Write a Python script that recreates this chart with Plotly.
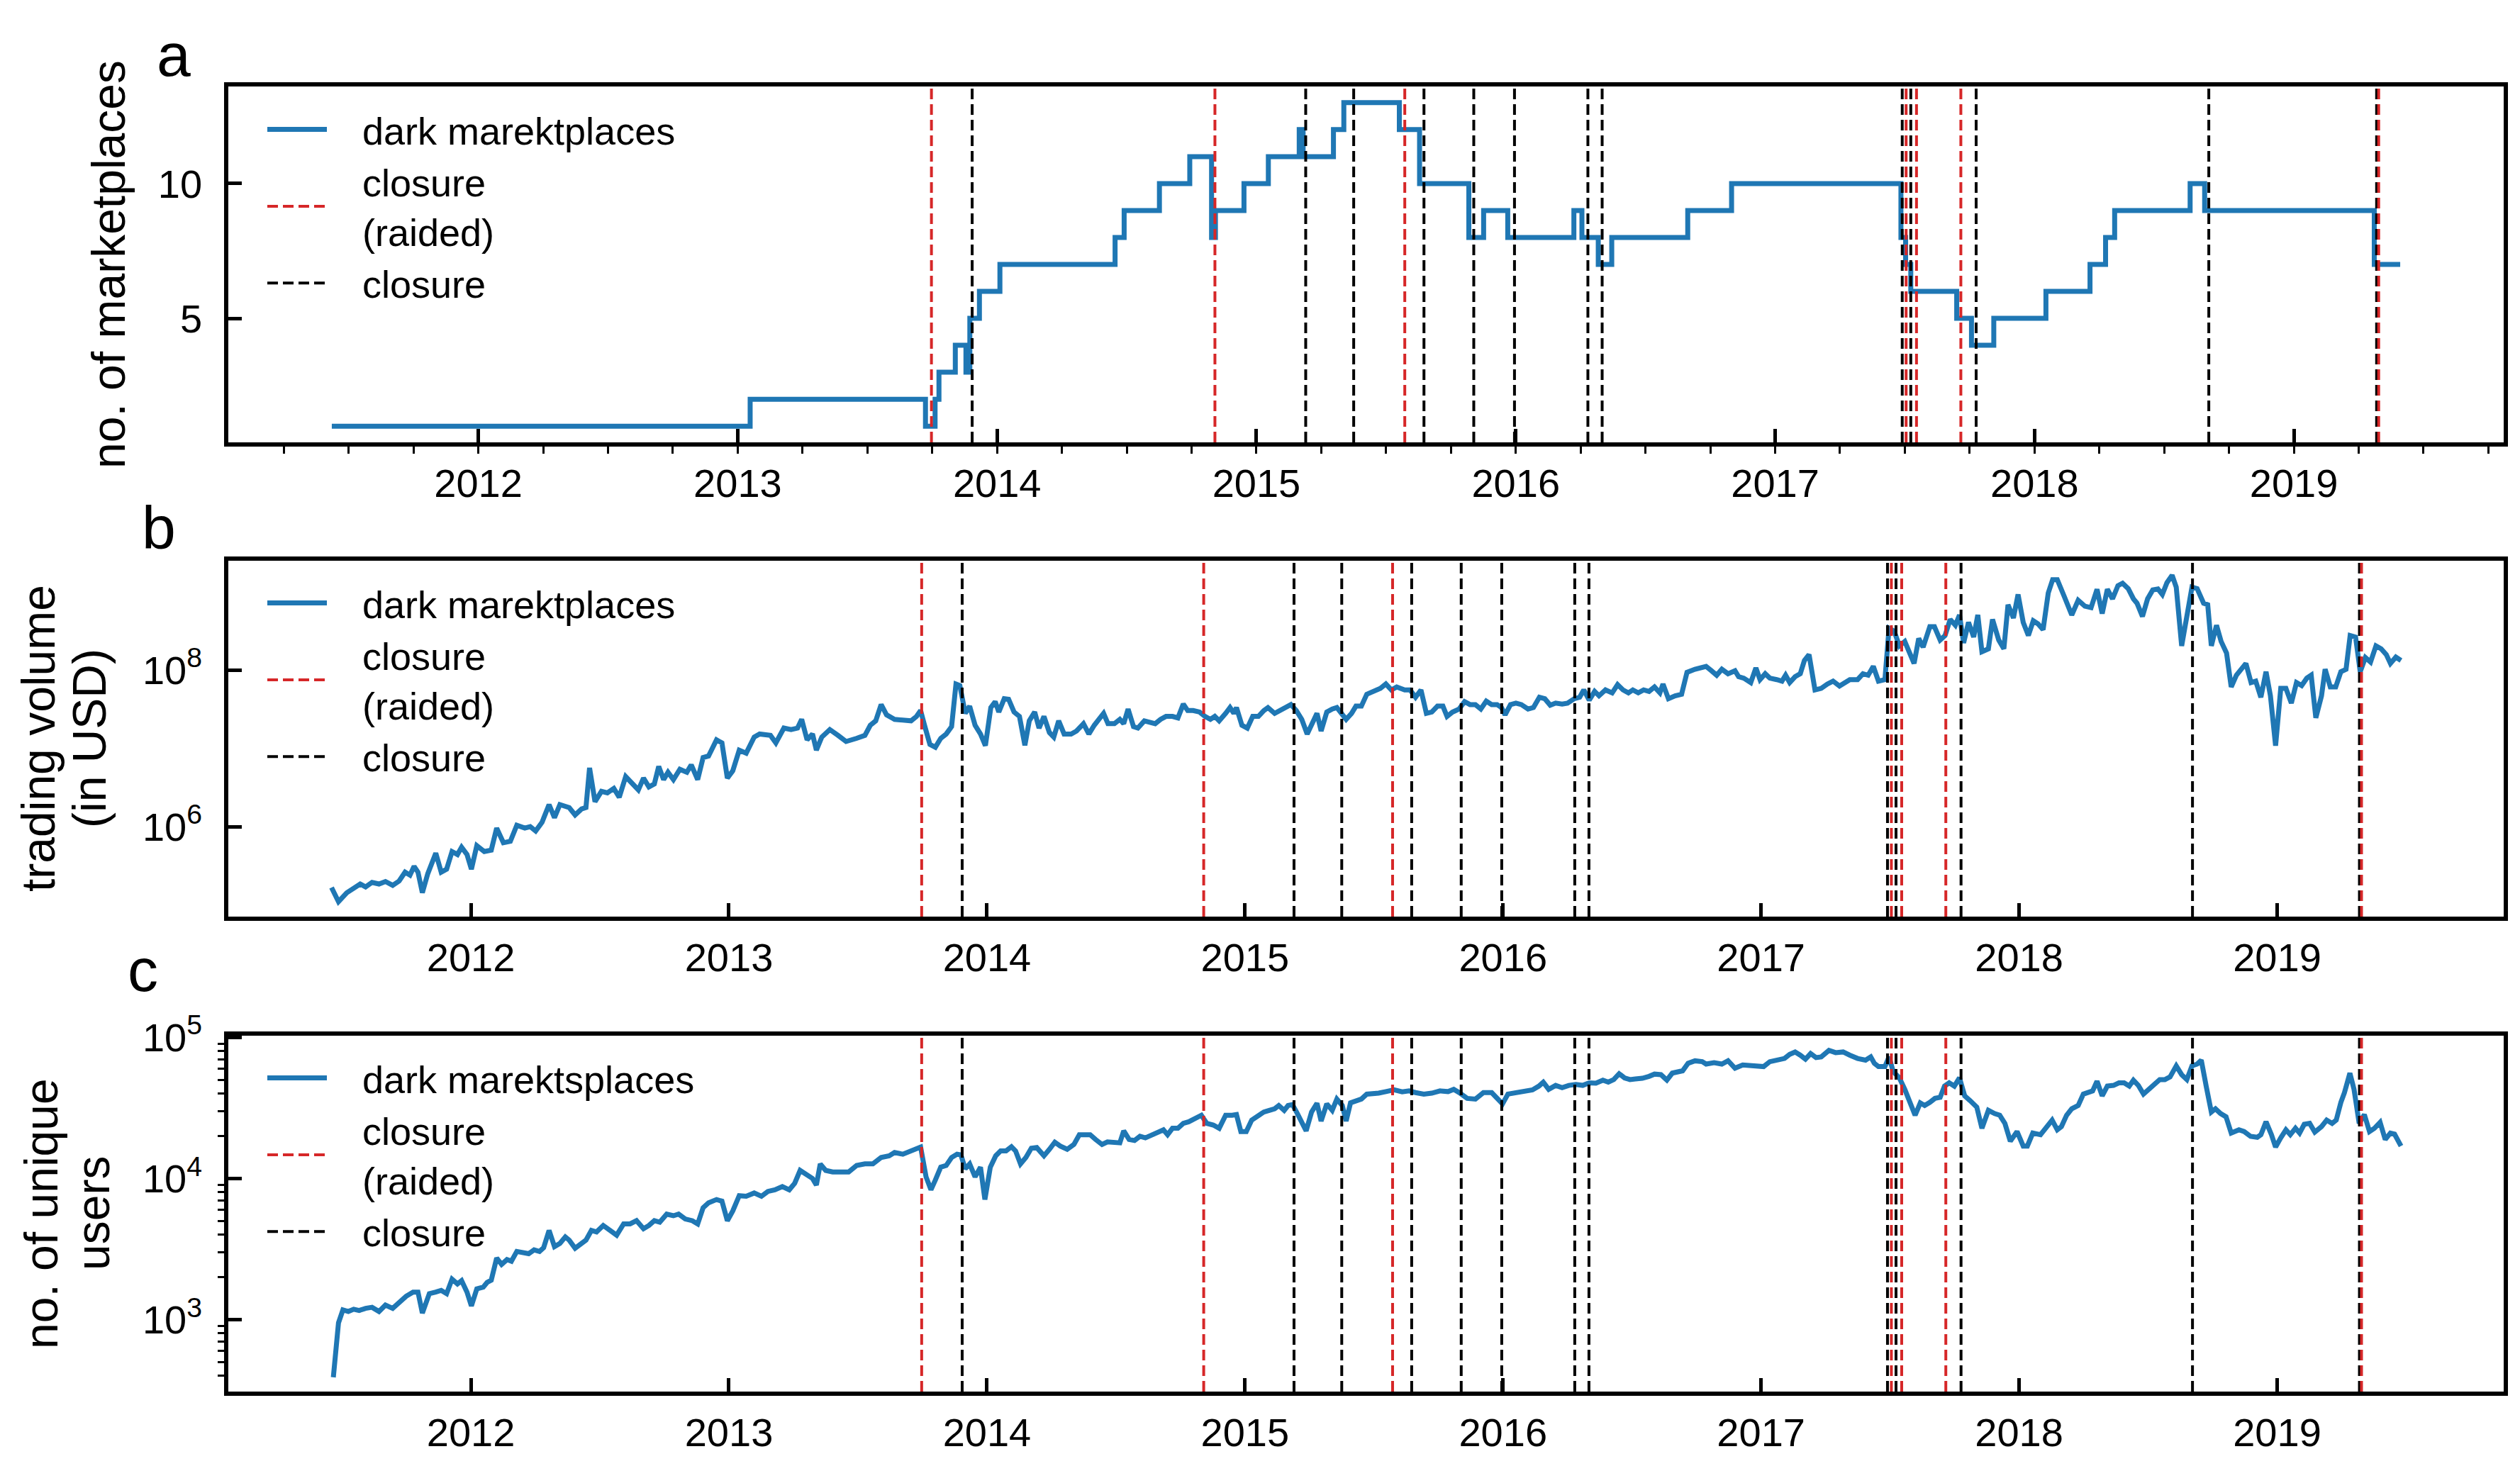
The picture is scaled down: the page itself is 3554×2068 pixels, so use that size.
import plotly.graph_objects as go

FONT = "Liberation Sans, Arial, Helvetica, sans-serif"
W, H = 3554, 2068

# ---------------- data (x in decimal years) ----------------
# panel a: number of active dark marketplaces (value valid from the given date on)
market_year = [2011.435, 2013.048, 2013.724, 2013.761, 2013.776, 2013.839, 2013.880, 2013.895, 2013.932,
               2014.011, 2014.455, 2014.490, 2014.626, 2014.743, 2014.827, 2014.842, 2014.952,
               2015.046, 2015.165, 2015.180, 2015.297, 2015.337, 2015.551, 2015.629, 2015.819, 2015.876, 2015.969,
               2016.224, 2016.255, 2016.318, 2016.370, 2016.663, 2016.832,
               2017.485, 2017.503, 2017.523, 2017.700, 2017.757, 2017.843,
               2018.044, 2018.214, 2018.274, 2018.309, 2018.600, 2018.656,
               2019.310, 2019.410]
market_count = [1, 2, 1, 2, 3, 4, 3, 5, 6,
                7, 8, 9, 10, 11, 8, 9, 10,
                11, 12, 11, 12, 13, 12, 10, 8, 9, 8,
                9, 8, 7, 8, 9, 10,
                8, 7, 6, 5, 4, 5,
                6, 7, 8, 9, 10, 9,
                7, 7]

# closures of marketplaces (decimal years)
raided_year = [2013.747, 2014.840, 2015.572, 2017.505, 2017.545, 2017.716, 2019.327]
closure_year = [2013.904, 2015.190, 2015.375, 2015.646, 2015.838, 2015.995, 2016.278, 2016.333,
                2017.490, 2017.523, 2017.775, 2018.672, 2019.319]

# panel b: weekly trading volume (USD)
vol_year = [
    2011.460, 2011.487, 2011.519, 2011.550, 2011.571, 2011.592, 2011.617, 2011.644, 2011.669, 2011.697,
    2011.722, 2011.745, 2011.764, 2011.780, 2011.795, 2011.812, 2011.833, 2011.864, 2011.885, 2011.906,
    2011.927, 2011.948, 2011.964, 2011.985, 2012.002, 2012.023, 2012.052, 2012.079, 2012.100, 2012.126,
    2012.153, 2012.178, 2012.209, 2012.230, 2012.251, 2012.276, 2012.303, 2012.324, 2012.345, 2012.381,
    2012.404, 2012.429, 2012.446, 2012.460, 2012.481, 2012.506, 2012.529, 2012.554, 2012.575, 2012.600,
    2012.628, 2012.649, 2012.669, 2012.690, 2012.711, 2012.728, 2012.747, 2012.764, 2012.785, 2012.810,
    2012.837, 2012.854, 2012.879, 2012.900, 2012.921, 2012.952, 2012.973, 2012.994, 2013.015, 2013.040,
    2013.067, 2013.098, 2013.119, 2013.161, 2013.182, 2013.213, 2013.241, 2013.266, 2013.282, 2013.303,
    2013.324, 2013.339, 2013.360, 2013.391, 2013.423, 2013.454,
    2013.495, 2013.527, 2013.548, 2013.569, 2013.590, 2013.611, 2013.642, 2013.685, 2013.706, 2013.727,
    2013.743, 2013.758, 2013.779, 2013.800, 2013.821, 2013.842, 2013.863, 2013.880, 2013.895, 2013.916,
    2013.933, 2013.954, 2013.975, 2013.994, 2014.015, 2014.032, 2014.046, 2014.067, 2014.084, 2014.105,
    2014.126, 2014.147, 2014.164, 2014.185, 2014.202, 2014.221, 2014.242, 2014.259, 2014.278, 2014.299,
    2014.326, 2014.347, 2014.374, 2014.395, 2014.416, 2014.452, 2014.469, 2014.494, 2014.515, 2014.530,
    2014.547, 2014.568, 2014.585, 2014.610, 2014.631, 2014.652, 2014.673, 2014.694, 2014.719, 2014.740,
    2014.761, 2014.778, 2014.799, 2014.824, 2014.845, 2014.866, 2014.883, 2014.900, 2014.925, 2014.942,
    2014.957, 2014.967, 2014.988, 2015.009, 2015.030, 2015.052, 2015.073, 2015.089, 2015.115, 2015.136,
    2015.157, 2015.178, 2015.199, 2015.220, 2015.241, 2015.262, 2015.279, 2015.295, 2015.317, 2015.338,
    2015.356, 2015.392, 2015.413, 2015.430, 2015.451, 2015.472, 2015.504, 2015.525, 2015.546, 2015.567,
    2015.588, 2015.619, 2015.640, 2015.661, 2015.682, 2015.703, 2015.724, 2015.746, 2015.767, 2015.783,
    2015.804, 2015.830, 2015.851, 2015.872, 2015.893, 2015.914, 2015.935, 2015.956, 2015.977, 2015.994,
    2016.008, 2016.029, 2016.050, 2016.071, 2016.097, 2016.118, 2016.141, 2016.162, 2016.183, 2016.204,
    2016.229, 2016.250, 2016.276, 2016.297, 2016.313, 2016.334, 2016.355, 2016.372, 2016.397, 2016.423,
    2016.444, 2016.465, 2016.486, 2016.503, 2016.524, 2016.545, 2016.566, 2016.587, 2016.608, 2016.620,
    2016.641, 2016.667, 2016.692, 2016.713, 2016.744, 2016.787, 2016.808, 2016.828, 2016.848, 2016.872,
    2016.899, 2016.913, 2016.933, 2016.960, 2016.980, 2016.996, 2017.016, 2017.034, 2017.061, 2017.081,
    2017.095, 2017.111, 2017.132, 2017.152, 2017.168, 2017.186, 2017.209, 2017.233, 2017.257, 2017.279,
    2017.304, 2017.324, 2017.344, 2017.374, 2017.395, 2017.415, 2017.435, 2017.455, 2017.480, 2017.496,
    2017.516, 2017.536, 2017.557, 2017.593, 2017.611, 2017.628, 2017.654, 2017.672, 2017.694, 2017.713,
    2017.733, 2017.753, 2017.769, 2017.785, 2017.804, 2017.824, 2017.840, 2017.856, 2017.881, 2017.897,
    2017.921, 2017.941, 2017.957, 2017.978, 2017.996, 2018.016, 2018.036, 2018.055, 2018.073, 2018.093,
    2018.113, 2018.130, 2018.148, 2018.174, 2018.204, 2018.229, 2018.255, 2018.279, 2018.302, 2018.322,
    2018.342, 2018.362, 2018.383, 2018.401, 2018.423, 2018.443, 2018.457, 2018.478, 2018.498, 2018.518,
    2018.538, 2018.555, 2018.573, 2018.593, 2018.609, 2018.630, 2018.650, 2018.670, 2018.690, 2018.715,
    2018.731, 2018.745, 2018.765, 2018.783, 2018.804, 2018.822, 2018.842, 2018.862, 2018.879, 2018.899,
    2018.917, 2018.937, 2018.957, 2018.974, 2018.994, 2019.014, 2019.034, 2019.055, 2019.075, 2019.095,
    2019.115, 2019.132, 2019.150, 2019.172, 2019.186, 2019.206, 2019.227, 2019.247, 2019.267, 2019.283,
    2019.304, 2019.322, 2019.342, 2019.362, 2019.383, 2019.403, 2019.423, 2019.439, 2019.460, 2019.480]
vol_usd = [
    1.67e5, 1.10e5, 1.43e5, 1.63e5, 1.85e5, 1.70e5, 1.94e5, 1.85e5, 1.99e5, 1.78e5,
    2.02e5, 2.62e5, 2.40e5, 3.11e5, 2.62e5, 1.43e5, 2.51e5, 4.59e5, 2.62e5, 2.86e5,
    4.80e5, 4.40e5, 5.46e5, 4.40e5, 2.86e5, 5.70e5, 4.80e5, 5.01e5, 9.57e5, 6.22e5,
    6.49e5, 1.04e6, 9.57e5, 1.00e6, 8.79e5, 1.14e6, 1.91e6, 1.30e6, 1.91e6, 1.75e6,
    1.41e6, 1.68e6, 1.75e6, 5.62e6, 2.08e6, 2.82e6, 2.70e6, 3.07e6, 2.37e6, 4.35e6,
    3.50e6, 2.94e6, 4.16e6, 3.21e6, 3.50e6, 5.87e6, 3.98e6, 4.94e6, 3.98e6, 5.39e6,
    4.94e6, 6.14e6, 3.98e6, 7.62e6, 7.96e6, 1.28e7, 1.17e7, 4.16e6, 5.16e6, 9.46e6,
    8.67e6, 1.39e7, 1.52e7, 1.46e7, 1.17e7, 1.81e7, 1.73e7, 1.81e7, 2.34e7, 1.28e7,
    1.52e7, 9.46e6, 1.39e7, 1.73e7, 1.46e7, 1.22e7,
    1.34e7, 1.46e7, 1.97e7, 2.24e7, 3.61e7, 2.67e7, 2.34e7, 2.30e7, 2.24e7, 2.55e7,
    3.03e7, 1.97e7, 1.12e7, 1.03e7, 1.34e7, 1.52e7, 1.89e7, 6.61e7, 6.32e7, 2.79e7,
    3.45e7, 1.97e7, 1.52e7, 1.08e7, 3.31e7, 3.94e7, 2.90e7, 4.29e7, 4.22e7, 2.90e7,
    2.55e7, 1.09e7, 2.24e7, 2.90e7, 1.81e7, 2.55e7, 1.59e7, 1.39e7, 2.24e7, 1.52e7,
    1.52e7, 1.66e7, 2.06e7, 1.52e7, 1.97e7, 2.79e7, 2.06e7, 2.06e7, 2.34e7, 2.06e7,
    3.17e7, 1.89e7, 1.81e7, 2.24e7, 2.15e7, 2.06e7, 2.34e7, 2.55e7, 2.55e7, 2.44e7,
    3.67e7, 3.03e7, 3.03e7, 2.90e7, 2.55e7, 2.34e7, 2.55e7, 2.24e7, 2.79e7, 3.31e7,
    2.79e7, 3.31e7, 1.97e7, 1.81e7, 2.55e7, 2.55e7, 3.03e7, 3.31e7, 2.79e7, 3.03e7,
    3.31e7, 3.61e7, 3.03e7, 2.34e7, 1.52e7, 2.24e7, 2.79e7, 1.66e7, 2.90e7, 3.17e7,
    3.31e7, 2.34e7, 2.79e7, 3.45e7, 3.45e7, 4.89e7, 5.32e7, 5.81e7, 6.61e7, 5.56e7,
    6.06e7, 5.56e7, 5.56e7, 4.48e7, 5.56e7, 2.79e7, 2.90e7, 3.45e7, 3.45e7, 2.55e7,
    2.90e7, 3.17e7, 3.94e7, 3.61e7, 3.61e7, 3.17e7, 4.00e7, 3.61e7, 3.61e7, 3.31e7,
    2.67e7, 3.61e7, 3.77e7, 3.61e7, 3.17e7, 3.31e7, 4.48e7, 4.29e7, 3.55e7, 3.77e7,
    3.67e7, 3.77e7, 4.29e7, 4.48e7, 5.56e7, 4.11e7, 5.32e7, 4.68e7, 5.56e7, 5.10e7,
    6.49e7, 5.56e7, 5.10e7, 5.56e7, 5.10e7, 5.56e7, 5.32e7, 6.06e7, 5.10e7, 6.61e7,
    4.29e7, 4.68e7, 4.89e7, 9.33e7, 1.02e8, 1.11e8, 9.75e7, 8.56e7, 1.02e8, 8.94e7,
    9.75e7, 8.20e7, 7.85e7, 6.90e7, 1.06e8, 7.52e7, 8.94e7, 7.85e7, 7.52e7, 7.20e7,
    8.56e7, 6.90e7, 8.20e7, 8.94e7, 1.32e8, 1.57e8, 5.56e7, 5.81e7, 6.61e7, 7.20e7,
    6.22e7, 6.90e7, 7.52e7, 7.52e7, 8.94e7, 8.56e7, 1.11e8, 7.20e7, 7.52e7, 3.41e8,
    3.13e8, 2.03e8, 2.31e8, 1.21e8, 2.52e8, 1.95e8, 3.56e8, 3.56e8, 2.41e8, 2.75e8,
    4.42e8, 3.72e8, 5.03e8, 2.21e8, 4.05e8, 2.63e8, 5.03e8, 1.71e8, 1.86e8, 4.42e8,
    2.41e8, 1.86e8, 6.81e8, 4.61e8, 9.20e8, 4.05e8, 2.75e8, 4.24e8, 3.88e8, 3.27e8,
    9.61e8, 1.42e9, 1.42e9, 8.83e8, 5.03e8, 7.74e8, 6.52e8, 6.24e8, 1.07e9, 5.25e8,
    1.07e9, 8.09e8, 1.19e9, 1.28e9, 1.09e9, 8.09e8, 7.11e8, 4.82e8, 8.09e8, 1.05e9,
    1.08e9, 9.20e8, 1.30e9, 1.62e9, 1.14e9, 2.03e8, 5.25e8, 1.14e9, 1.09e9, 7.11e8,
    6.81e8, 2.03e8, 3.72e8, 2.31e8, 1.64e8, 6.06e7, 8.56e7, 1.02e8, 1.21e8, 6.90e7,
    7.20e7, 4.48e7, 9.49e7, 4.68e7, 1.08e7, 5.81e7, 5.81e7, 3.77e7, 6.90e7, 6.32e7,
    7.85e7, 8.56e7, 2.44e7, 4.68e7, 1.02e8, 6.06e7, 6.06e7, 9.49e7, 1.02e8, 2.75e8,
    2.63e8, 9.49e7, 1.44e8, 1.26e8, 2.03e8, 1.86e8, 1.57e8, 1.21e8, 1.46e8, 1.32e8]

# panel c: weekly number of unique users
users_year = [
    2011.467, 2011.487, 2011.504, 2011.525, 2011.546, 2011.567, 2011.592, 2011.617, 2011.644, 2011.669,
    2011.697, 2011.722, 2011.749, 2011.776, 2011.795, 2011.812, 2011.839, 2011.864, 2011.885, 2011.906,
    2011.927, 2011.948, 2011.964, 2011.985, 2012.002, 2012.023, 2012.048, 2012.063, 2012.079, 2012.100,
    2012.119, 2012.140, 2012.157, 2012.178, 2012.203, 2012.224, 2012.245, 2012.266, 2012.282, 2012.303,
    2012.324, 2012.345, 2012.366, 2012.381, 2012.404, 2012.429, 2012.446, 2012.467, 2012.487, 2012.513,
    2012.538, 2012.565, 2012.592, 2012.617, 2012.642, 2012.669, 2012.690, 2012.711, 2012.732, 2012.759,
    2012.785, 2012.805, 2012.831, 2012.858, 2012.879, 2012.900, 2012.921, 2012.952, 2012.973, 2012.994,
    2013.015, 2013.040, 2013.067, 2013.098, 2013.126, 2013.151, 2013.178, 2013.207, 2013.234, 2013.255,
    2013.276, 2013.303, 2013.324, 2013.339, 2013.354, 2013.375, 2013.402, 2013.433, 2013.464,
    2013.495, 2013.527, 2013.558, 2013.590, 2013.621, 2013.642, 2013.674, 2013.706, 2013.727, 2013.743,
    2013.764, 2013.783, 2013.800, 2013.821, 2013.842, 2013.863, 2013.884, 2013.899, 2013.916, 2013.933,
    2013.954, 2013.975, 2013.992, 2014.013, 2014.034, 2014.053, 2014.074, 2014.095, 2014.111, 2014.130,
    2014.151, 2014.172, 2014.193, 2014.221, 2014.242, 2014.263, 2014.284, 2014.311, 2014.337, 2014.358,
    2014.379, 2014.400, 2014.421, 2014.446, 2014.467, 2014.494, 2014.515, 2014.530, 2014.551, 2014.572,
    2014.593, 2014.614, 2014.641, 2014.662, 2014.684, 2014.700, 2014.719, 2014.740, 2014.761, 2014.782,
    2014.803, 2014.831, 2014.852, 2014.877, 2014.900, 2014.925, 2014.950, 2014.967, 2014.984, 2015.005,
    2015.026, 2015.052, 2015.073, 2015.094, 2015.115, 2015.131, 2015.152, 2015.167, 2015.184, 2015.203,
    2015.220, 2015.237, 2015.258, 2015.279, 2015.295, 2015.317, 2015.338, 2015.356, 2015.377, 2015.392,
    2015.409, 2015.430, 2015.451, 2015.472, 2015.493, 2015.518, 2015.546, 2015.578, 2015.609, 2015.636,
    2015.661, 2015.693, 2015.724, 2015.756, 2015.787, 2015.809, 2015.830, 2015.861, 2015.893, 2015.924,
    2015.956, 2015.977, 2015.998, 2016.019, 2016.050, 2016.082, 2016.114, 2016.139, 2016.156, 2016.177,
    2016.204, 2016.229, 2016.255, 2016.282, 2016.309, 2016.334, 2016.360, 2016.387, 2016.408, 2016.429,
    2016.450, 2016.471, 2016.492, 2016.513, 2016.540, 2016.566, 2016.587, 2016.612, 2016.635, 2016.656,
    2016.681, 2016.696, 2016.717, 2016.744, 2016.772,
    2016.787, 2016.818, 2016.848, 2016.872, 2016.899, 2016.929, 2016.960, 2016.990, 2017.010, 2017.034,
    2017.061, 2017.091, 2017.111, 2017.132, 2017.152, 2017.172, 2017.192, 2017.213, 2017.233, 2017.263,
    2017.289, 2017.318, 2017.344, 2017.374, 2017.405, 2017.425, 2017.439, 2017.455, 2017.480, 2017.496,
    2017.512, 2017.536, 2017.557, 2017.577, 2017.597, 2017.617, 2017.634, 2017.654, 2017.674, 2017.694,
    2017.711, 2017.729, 2017.749, 2017.769, 2017.789, 2017.810, 2017.836, 2017.856, 2017.881, 2017.905,
    2017.925, 2017.945, 2017.966, 2017.992, 2018.016, 2018.032, 2018.053, 2018.083, 2018.103, 2018.128,
    2018.148, 2018.164, 2018.184, 2018.204, 2018.229, 2018.249, 2018.285, 2018.302, 2018.322, 2018.342,
    2018.366, 2018.387, 2018.407, 2018.427, 2018.443, 2018.462, 2018.482, 2018.502, 2018.524, 2018.545,
    2018.565, 2018.585, 2018.609, 2018.630, 2018.650, 2018.670, 2018.690, 2018.706, 2018.725, 2018.745,
    2018.761, 2018.781, 2018.802, 2018.822, 2018.852, 2018.872, 2018.897, 2018.923, 2018.937, 2018.957,
    2018.978, 2018.994, 2019.014, 2019.034, 2019.051, 2019.071, 2019.087, 2019.105, 2019.126, 2019.146,
    2019.172, 2019.192, 2019.213, 2019.229, 2019.247, 2019.261, 2019.282, 2019.298, 2019.318, 2019.338,
    2019.358, 2019.377, 2019.399, 2019.419, 2019.439, 2019.455, 2019.480]
users_count = [
    390, 949, 1172, 1141, 1185, 1160, 1202, 1222, 1141, 1268,
    1202, 1336, 1464, 1567, 1567, 1112, 1527, 1567, 1611, 1527,
    1936, 1790, 1888, 1567, 1249, 1652, 1698, 1836, 1904, 2733,
    2460, 2663, 2594, 3041, 2993, 2930, 3120, 3041, 3236, 4285,
    3289, 3467, 3855, 3656, 3205, 3467, 3656, 4285, 4178, 4645,
    4285, 3963, 4766, 4766, 5023, 4405, 4645, 5023, 4898, 5589,
    5445, 5589, 5164, 5023, 4766, 6209, 6730, 7096, 6908, 5023,
    5888, 7551, 7479, 7889, 7479, 8098, 8318, 8770, 8318, 9244,
    11410, 10550, 10000, 8994, 12680, 11410, 11120, 11120, 11120,
    12360, 12690, 12690, 14100, 14490, 15280, 14870, 15670, 16100, 16700,
    10270, 8318, 9739, 12030, 12360, 14100, 14870, 14700, 11720, 12690,
    10270, 12030, 7096, 12030, 14490, 15670, 15670, 16800, 15670, 12690,
    14100, 16370, 16560, 14490, 16100, 18080, 16980, 16100, 17430, 20430,
    20430, 20430, 18900, 17430, 18180, 18080, 17890, 21760, 18900, 18590,
    19900, 19400, 20430, 20990, 22130, 20430, 22700, 22700, 24590, 25240,
    26340, 28060, 24590, 23930, 22700, 28060, 28060, 28380, 21520, 21520,
    25940, 28060, 29580, 30400, 31200, 32910, 30400, 32910, 33430, 28840,
    25240, 21760, 29580, 34140, 25520, 33810, 30400, 36540, 32910, 25520,
    34340, 35240, 36540, 39630, 39630, 40270, 41300, 42460, 41100, 41760,
    40640, 39630, 40270, 41760, 41300, 42860, 40640, 36980, 36540, 40640,
    40640, 36980, 33810, 39630, 40640, 41300, 42460, 45180, 48170, 42860,
    45700, 44060, 45700, 46430, 45700, 47630, 47380, 49780, 48170, 50230,
    55290, 51660, 50230, 50760, 51320, 52960, 54950, 54450, 49780, 55840,
    57390, 57970, 65460, 68230, 67290,
    64710, 66180, 64710, 68230, 60500, 63830, 62830, 61520, 62120, 67290,
    69020, 70950, 75860, 78840, 74820, 70140, 76740, 71940, 72780, 80910,
    77980, 78840, 74820, 70950, 69020, 72780, 65460, 62120, 62120, 72780,
    57390, 51660, 42860, 34650, 28060, 34340, 32910, 34650, 36980, 37580,
    45180, 47630, 45180, 51660, 38550, 35640, 32050, 22700, 30400, 28840,
    28060, 24590, 18370, 21520, 16980, 16980, 20990, 20430, 22700, 25940,
    22130, 23330, 28060, 31200, 32910, 39630, 41760, 48980, 38550, 45180,
    45700, 47630, 47630, 45180, 49780, 45700, 39630, 42860, 47380, 50230,
    50230, 52480, 62830, 54450, 50230, 62830, 64710, 69020, 45180, 29580,
    31200, 28840, 27370, 20990, 22130, 21520, 19900, 19590, 20430, 25240,
    20430, 16700, 19400, 22130, 20430, 22700, 20990, 24210, 24590, 21330,
    23330, 25940, 24590, 25940, 34650, 40640, 55840, 42860, 24590, 28380,
    21520, 22700, 24990, 18900, 20990, 20650, 16980]

year_ticks = [2012, 2013, 2014, 2015, 2016, 2017, 2018, 2019]
year_labels = [str(y) for y in year_ticks]

# ---------------- layout constants ----------------
BLUE, RED, BLACK = "#1f77b4", "#d62728", "#000000"
X_DOM = [314 / W, 3523 / W]
DOMS = [[1 - 616 / H, 1 - 114 / H], [1 - 1285 / H, 1 - 783 / H], [1 - 1955 / H, 1 - 1453 / H]]
XR_A = [2011.036, 2019.809]
XR_BC = [2011.060, 2019.878]
YR_A = [0.4, 13.6]
YR_B = [4.851, 9.394]     # log10
YR_C = [2.490, 5.012]     # log10

TICK_FS, LEG_FS, TITLE_FS, LETTER_FS = 56, 54, 66, 86
PAD = "&nbsp;&nbsp;&nbsp;"   # gap between legend line sample and its label


def vlines(years, lo, hi):
    xs, ys = [], []
    for yr in years:
        xs += [yr, yr, None]
        ys += [lo, hi, None]
    return xs, ys


fig = go.Figure()

panels = [
    dict(ax="", x=market_year, y=market_count, name="dark marektplaces", shape="hv",
         lo=YR_A[0], hi=YR_A[1], legend="legend"),
    dict(ax="2", x=vol_year, y=vol_usd, name="dark marektplaces", shape="linear",
         lo=10 ** YR_B[0], hi=10 ** YR_B[1], legend="legend2"),
    dict(ax="3", x=users_year, y=users_count, name="dark marektsplaces", shape="linear",
         lo=10 ** YR_C[0], hi=10 ** YR_C[1], legend="legend3"),
]

for p in panels:
    xa, ya = "x" + p["ax"], "y" + p["ax"]
    fig.add_trace(go.Scatter(x=p["x"], y=p["y"], mode="lines", name=PAD + p["name"],
                             line=dict(color=BLUE, width=7, shape=p["shape"]),
                             xaxis=xa, yaxis=ya, legend=p["legend"], legendrank=1,
                             showlegend=True, hoverinfo="skip"))
    cx, cy = vlines(closure_year, p["lo"], p["hi"])
    fig.add_trace(go.Scatter(x=cx, y=cy, mode="lines", name=PAD + "closure",
                             line=dict(color=BLACK, width=4, dash="15px,7px"),
                             xaxis=xa, yaxis=ya, legend=p["legend"], legendrank=3,
                             showlegend=True, hoverinfo="skip"))
    rx, ry = vlines(raided_year, p["lo"], p["hi"])
    fig.add_trace(go.Scatter(x=rx, y=ry, mode="lines", name=PAD + "closure<br>" + PAD + "(raided)",
                             line=dict(color=RED, width=4, dash="15px,7px"),
                             xaxis=xa, yaxis=ya, legend=p["legend"], legendrank=2,
                             showlegend=True, hoverinfo="skip"))

axis_common = dict(showline=True, linewidth=5.5, linecolor="black", mirror=True,
                   ticks="inside", ticklen=19, tickwidth=5, tickcolor="black",
                   showgrid=False, zeroline=False,
                   tickfont=dict(family=FONT, size=TICK_FS, color="black"))

xminor_a = dict(ticks="outside", ticklen=10, tickwidth=3, tickcolor="black",
                tickmode="linear", tick0=2011, dtick=0.25, showgrid=False)

c_minor_vals = [m * 10 ** e for e in (2, 3, 4) for m in range(2, 10)]

layout = dict(
    width=W, height=H, margin=dict(l=0, r=0, t=0, b=0, autoexpand=False),
    template="none", paper_bgcolor="white", plot_bgcolor="white",
    font=dict(family=FONT, color="black"),
    xaxis=dict(axis_common, domain=X_DOM, anchor="y", range=XR_A, tickmode="array",
               tickvals=year_ticks, ticktext=year_labels, minor=xminor_a, ticklabelstandoff=4),
    xaxis2=dict(axis_common, domain=X_DOM, anchor="y2", range=XR_BC, tickmode="array",
                tickvals=year_ticks, ticktext=year_labels, ticklabelstandoff=4),
    xaxis3=dict(axis_common, domain=X_DOM, anchor="y3", range=XR_BC, tickmode="array",
                tickvals=year_ticks, ticktext=year_labels, ticklabelstandoff=4),
    yaxis=dict(axis_common, domain=DOMS[0], anchor="x", range=YR_A, tickmode="array",
               tickvals=[5, 10], ticktext=["5", "10"], ticklabelstandoff=20),
    yaxis2=dict(axis_common, domain=DOMS[1], anchor="x2", type="log", range=YR_B,
                tickmode="array", tickvals=[1e6, 1e8],
                ticktext=["10<sup>6</sup>", "10<sup>8</sup>"], ticklabelstandoff=20),
    yaxis3=dict(axis_common, domain=DOMS[2], anchor="x3", type="log", range=YR_C,
                tickmode="array", tickvals=[1e3, 1e4, 1e5],
                ticktext=["10<sup>3</sup>", "10<sup>4</sup>", "10<sup>5</sup>"],
                minor=dict(ticks="outside", ticklen=9, tickwidth=2.5, tickcolor="black",
                           tickmode="array", tickvals=c_minor_vals, showgrid=False),
                ticklabelstandoff=20),
    showlegend=True,
)

leg_common = dict(xanchor="left", yanchor="top", bgcolor="rgba(0,0,0,0)", borderwidth=0,
                  font=dict(family=FONT, size=LEG_FS, color="black"), itemwidth=84,
                  traceorder="normal", tracegroupgap=0)
layout["legend"] = dict(leg_common, x=364 / W, y=1 - 133 / H)
layout["legend2"] = dict(leg_common, x=364 / W, y=1 - 801 / H)
layout["legend3"] = dict(leg_common, x=364 / W, y=1 - 1471 / H)

fig.update_layout(**layout)

annos = []
for txt, xp, yp in [("a", 237, 69), ("b", 216, 736), ("c", 193, 1360)]:
    annos.append(dict(text=txt, x=xp / W, y=1 - yp / H, xref="paper", yref="paper",
                      showarrow=False, xanchor="center", yanchor="middle",
                      font=dict(family=FONT, size=LETTER_FS, color="black")))
for txt, xp, yp in [("no. of marketplaces", 145, 365),
                    ("trading volume", 46, 1034), ("(in USD)", 118, 1034),
                    ("no. of unique", 50, 1704), ("users", 123, 1704)]:
    annos.append(dict(text=txt, x=xp / W, y=1 - yp / H, xref="paper", yref="paper",
                      showarrow=False, xanchor="center", yanchor="middle", textangle=-90,
                      font=dict(family=FONT, size=TITLE_FS, color="black")))
fig.update_layout(annotations=annos)

fig.write_html("out.html")
